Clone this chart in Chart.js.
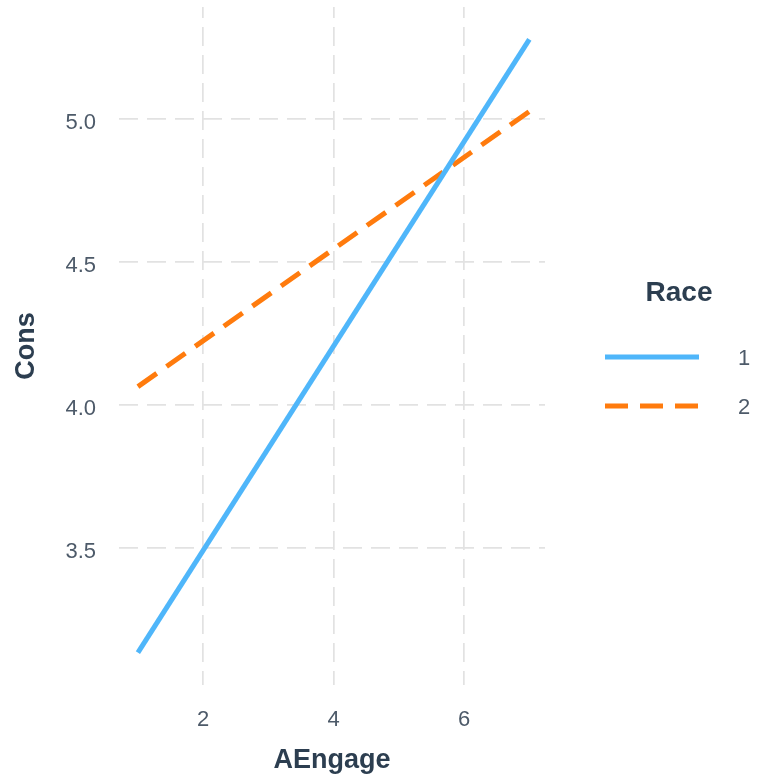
<!DOCTYPE html>
<html>
<head>
<meta charset="utf-8">
<script src="https://cdn.jsdelivr.net/npm/chart.js@4.4.0/dist/chart.umd.min.js"></script>
<style>
  html, body { margin: 0; padding: 0; background: #ffffff; }
  canvas { display: block; }
</style>
</head>
<body>
<canvas id="plot" width="759" height="784"></canvas>
<script>
// values
let raceLabels = ["1", "2"];
let engageX = [1, 7];
let consRace1 = [3.133, 5.277];
let consRace2 = [4.063, 5.025];
let xTicks = [2, 4, 6];
let yTicks = [3.5, 4.0, 4.5, 5.0];

let titleColor = '#2c3e50';
let tickColor = '#4d5a69';
let gridColor = '#e2e2e2';

function toPoints(xs, ys) {
    return xs.map(function(x, i) { return { x: x, y: ys[i] }; });
}

// ggplot-style legend on the right, built from the datasets
var raceLegend = {
    id: 'raceLegend',
    afterDraw: function(chart) {
        var ctx = chart.ctx;
        ctx.save();
        ctx.textAlign = 'center';
        ctx.textBaseline = 'middle';
        ctx.fillStyle = titleColor;
        ctx.font = 'bold 28px "Liberation Sans", Arial, sans-serif';
        ctx.fillText('Race', 679, 293);
        chart.data.datasets.forEach(function(ds, i) {
            var y = 357 + i * 49;
            ctx.strokeStyle = ds.borderColor;
            ctx.lineWidth = ds.borderWidth;
            ctx.setLineDash(ds.borderDash || []);
            ctx.beginPath();
            ctx.moveTo(605, y);
            ctx.lineTo(699, y);
            ctx.stroke();
            ctx.setLineDash([]);
            ctx.fillStyle = tickColor;
            ctx.font = '22px "Liberation Sans", Arial, sans-serif';
            ctx.fillText(ds.label, 744, y + 2);
        });
        ctx.restore();
    }
};

var ctx = document.getElementById('plot').getContext('2d');

var chart = new Chart(ctx, {
    type: 'line',
    data: {
        datasets: [{
            label: raceLabels[0],
            data: toPoints(engageX, consRace1),
            borderColor: '#4fb6fa',
            borderWidth: 5,
            pointRadius: 0,
            fill: false
        }, {
            label: raceLabels[1],
            data: toPoints(engageX, consRace2),
            borderColor: '#ff7b0d',
            borderWidth: 5,
            borderDash: [23, 12],
            pointRadius: 0,
            fill: false
        }]
    },
    options: {
        responsive: false,
        animation: false,
        layout: {
            padding: { left: 0, top: 7, right: 214, bottom: 0 }
        },
        plugins: {
            legend: { display: false },
            tooltip: { enabled: false }
        },
        scales: {
            x: {
                type: 'linear',
                min: 0.71,
                max: 7.24,
                afterBuildTicks: function(scale) {
                    scale.ticks = xTicks.map(function(v) { return { value: v }; });
                },
                afterFit: function(scale) {
                    scale.height = 99;
                    scale.paddingLeft = 0;
                    scale.paddingRight = 0;
                },
                grid: { color: gridColor, lineWidth: 1.7, drawTicks: false },
                border: { display: false, dash: [19, 9], dashOffset: 8 },
                ticks: {
                    padding: 22,
                    color: tickColor,
                    font: { family: '"Liberation Sans", Arial, sans-serif', size: 22 }
                },
                title: {
                    display: true,
                    text: 'AEngage',
                    color: titleColor,
                    padding: { top: 0, bottom: 7 },
                    font: { family: '"Liberation Sans", Arial, sans-serif', size: 27, weight: 'bold' }
                }
            },
            y: {
                min: 3.02,
                max: 5.39,
                afterBuildTicks: function(scale) {
                    scale.ticks = yTicks.map(function(v) { return { value: v }; });
                },
                afterFit: function(scale) {
                    scale.width = 119;
                    scale.paddingTop = 0;
                    scale.paddingBottom = 0;
                },
                grid: { color: gridColor, lineWidth: 1.7, drawTicks: false },
                border: { display: false, dash: [19, 9] },
                ticks: {
                    padding: 23,
                    labelOffset: 4,
                    color: tickColor,
                    font: { family: '"Liberation Sans", Arial, sans-serif', size: 22 },
                    callback: function(value) { return Number(value).toFixed(1); }
                },
                title: {
                    display: true,
                    text: 'Cons',
                    color: titleColor,
                    padding: { top: 10, bottom: 0 },
                    font: { family: '"Liberation Sans", Arial, sans-serif', size: 27, weight: 'bold' }
                }
            }
        }
    },
    plugins: [raceLegend]
});
</script>
</body>
</html>
